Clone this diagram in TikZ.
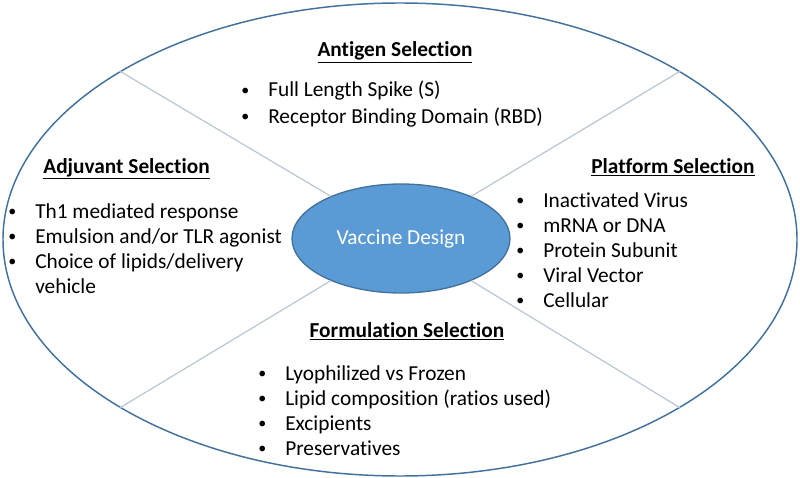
\documentclass[tikz,border=0pt]{standalone}
\usepackage{fontspec}
\setmainfont{Carlito}[Ligatures=NoCommon]
\usetikzlibrary{shapes.geometric}

\definecolor{rimblue}{HTML}{41719C}
\definecolor{coreblue}{HTML}{5B9BD5}
\definecolor{divgrey}{HTML}{B9C6D3}

\newcommand{\blt}{\makebox[21pt][l]{\hspace{0.8pt}\raisebox{1pt}{\fontsize{12}{12}\selectfont\textbullet}}}
\newcommand{\nob}{\makebox[21pt][l]{}}

\begin{document}
\begin{tikzpicture}[x=0.75pt, y=-0.75pt,
    every node/.style={font=\fontsize{16}{19}\selectfont},
    hdg/.style={anchor=base, inner sep=0pt, font=\fontsize{16}{19}\selectfont\bfseries},
    itm/.style={anchor=base west, inner sep=0pt},
    divider/.style={draw=divgrey, line width=0.9pt}]

  \useasboundingbox (0,0) rectangle (800,478);

  % --- Outer ring and centre ellipse ---
  \node[ellipse, draw=rimblue, line width=1.1pt,
        minimum width=595.5pt, minimum height=354.75pt] (outer) at (400,239.5) {};
  \node[ellipse, draw=rimblue, fill=coreblue, line width=1pt, text=white,
        minimum width=163.5pt, minimum height=81.75pt] (core) at (401,238.5) {Vaccine Design};

  % --- Dividers between the four quarters ---
  \foreach \a in {31,149,211,329}
    \draw[divider] (core.\a) -- (outer.\a);

  % --- Antigen (top) ---
  \node[hdg] (antigen) at (395,57) {\underline{Antigen Selection}};
  \foreach \txt [count=\i] in {Full Length Spike (S), Receptor Binding Domain (RBD)}
    \node[itm] (antigen-\i) at (240,{97+26*(\i-1)}) {\blt\txt};

  % --- Adjuvant (left) ---
  \node[hdg] (adjuvant) at (126.5,173) {\underline{Adjuvant Selection}};
  \foreach \txt [count=\i] in {Th1 mediated response, Emulsion and/or TLR agonist,
                               Choice of lipids/delivery}
    \node[itm] (adjuvant-\i) at (7,{218+25*(\i-1)}) {\blt\txt};
  \node[itm] (adjuvant-4) at (7,293) {\nob vehicle};

  % --- Platform (right) ---
  \node[hdg] (platform) at (673,173) {\underline{Platform Selection}};
  \foreach \txt [count=\i] in {Inactivated Virus, mRNA or DNA, Protein Subunit,
                               Viral Vector, Cellular}
    \node[itm] (platform-\i) at (515,{207+25*(\i-1)}) {\blt\txt};

  % --- Formulation (bottom) ---
  \node[hdg] (formulation) at (407,337) {\underline{Formulation Selection}};
  \foreach \txt [count=\i] in {Lyophilized vs Frozen, Lipid composition (ratios used),
                               Excipients, Preservatives}
    \node[itm] (formulation-\i) at (257,{380+25*(\i-1)}) {\blt\txt};

\end{tikzpicture}
\end{document}
